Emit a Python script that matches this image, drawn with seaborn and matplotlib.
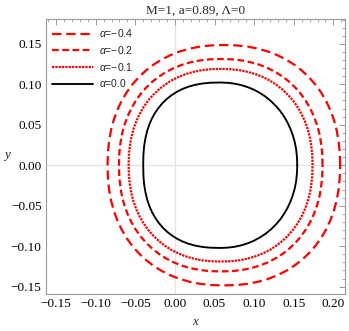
import numpy as np
import pandas as pd
import matplotlib
matplotlib.use("Agg")
import matplotlib.pyplot as plt
from matplotlib.ticker import MultipleLocator
import seaborn as sns

# Shadow curves: upper half, going right -> top -> left.
# The lower half of every curve is the mirror image in y = 0.
x_m04 = [0.2084, 0.2079, 0.2064, 0.2039, 0.2004, 0.1960, 0.1906, 0.1843, 0.1771, 0.1691,
         0.1603, 0.1507, 0.1403, 0.1293, 0.1176, 0.1052, 0.0920, 0.0780, 0.0617,
         0.0454, 0.0314, 0.0182, 0.0058, -0.0059, -0.0169, -0.0273, -0.0369, -0.0457,
         -0.0537, -0.0609, -0.0672, -0.0726, -0.0770, -0.0805, -0.0830, -0.0845, -0.0850]
y_m04 = [0.0000, 0.0165, 0.0307, 0.0440, 0.0565, 0.0684, 0.0796, 0.0901, 0.0998, 0.1087,
         0.1168, 0.1241, 0.1305, 0.1359, 0.1404, 0.1439, 0.1465, 0.1480, 0.1485,
         0.1480, 0.1465, 0.1439, 0.1404, 0.1359, 0.1305, 0.1241, 0.1168, 0.1087,
         0.0998, 0.0901, 0.0796, 0.0684, 0.0565, 0.0440, 0.0307, 0.0165, 0.0000]

x_m02 = [0.1862, 0.1858, 0.1844, 0.1823, 0.1792, 0.1753, 0.1706, 0.1651, 0.1588, 0.1518,
         0.1441, 0.1357, 0.1266, 0.1169, 0.1067, 0.0958, 0.0844, 0.0721, 0.0578,
         0.0435, 0.0312, 0.0198, 0.0089, -0.0013, -0.0110, -0.0201, -0.0285, -0.0362,
         -0.0432, -0.0495, -0.0550, -0.0597, -0.0636, -0.0667, -0.0688, -0.0702, -0.0706]
y_m02 = [0.0000, 0.0146, 0.0271, 0.0389, 0.0500, 0.0604, 0.0703, 0.0795, 0.0881, 0.0960,
         0.1032, 0.1096, 0.1153, 0.1201, 0.1241, 0.1272, 0.1294, 0.1308, 0.1312,
         0.1308, 0.1294, 0.1272, 0.1241, 0.1201, 0.1153, 0.1096, 0.1032, 0.0960,
         0.0881, 0.0795, 0.0703, 0.0604, 0.0500, 0.0389, 0.0271, 0.0146, 0.0000]

x_m01 = [0.1736, 0.1732, 0.1720, 0.1700, 0.1673, 0.1638, 0.1595, 0.1545, 0.1489, 0.1425,
         0.1355, 0.1279, 0.1198, 0.1110, 0.1018, 0.0920, 0.0816, 0.0705, 0.0576,
         0.0447, 0.0336, 0.0232, 0.0134, 0.0042, -0.0046, -0.0127, -0.0203, -0.0273,
         -0.0337, -0.0393, -0.0443, -0.0486, -0.0521, -0.0548, -0.0568, -0.0580, -0.0584]
y_m01 = [0.0000, 0.0132, 0.0246, 0.0353, 0.0453, 0.0548, 0.0638, 0.0722, 0.0800, 0.0871,
         0.0936, 0.0994, 0.1046, 0.1089, 0.1125, 0.1153, 0.1174, 0.1186, 0.1190,
         0.1186, 0.1174, 0.1153, 0.1125, 0.1089, 0.1046, 0.0994, 0.0936, 0.0871,
         0.0800, 0.0722, 0.0638, 0.0548, 0.0453, 0.0353, 0.0246, 0.0132, 0.0000]

# alpha = 0: round on the right, flatter on the left
x_00 = [0.1544, 0.1540, 0.1530, 0.1513, 0.1488, 0.1457, 0.1420, 0.1376, 0.1327, 0.1271,
        0.1211, 0.1145, 0.1075, 0.1001, 0.0923, 0.0841, 0.0756, 0.0668, 0.0572,
        0.0444, 0.0345, 0.0255, 0.0173, 0.0096, 0.0025, -0.0041, -0.0102, -0.0157,
        -0.0207, -0.0252, -0.0291, -0.0324, -0.0351, -0.0372, -0.0388, -0.0397, -0.0400]
y_00 = [0.0000, 0.0101, 0.0194, 0.0283, 0.0369, 0.0451, 0.0529, 0.0603, 0.0672, 0.0735,
        0.0793, 0.0846, 0.0891, 0.0931, 0.0963, 0.0989, 0.1007, 0.1018, 0.1022,
        0.1019, 0.1009, 0.0993, 0.0971, 0.0942, 0.0907, 0.0866, 0.0819, 0.0767,
        0.0708, 0.0644, 0.0575, 0.0500, 0.0420, 0.0333, 0.0239, 0.0135, 0.0000]

labels = [r"$\alpha$=−0.4", r"$\alpha$=−0.2", r"$\alpha$=−0.1", r"$\alpha$=0.0"]
curves = [(x_m04, y_m04), (x_m02, y_m02), (x_m01, y_m01), (x_00, y_00)]
colors = ["#ff0000", "#ff0000", "#ff0000", "black"]
widths = [1.6, 1.6, 1.6, 1.35]
styles = [(0, (4.2, 2.2)), (0, (3.0, 1.6)), (0, (1.0, 0.5)), "-"]

sns.set_style("white")
plt.rcParams["mathtext.fontset"] = "custom"
plt.rcParams["mathtext.it"] = "Liberation Sans:italic"
plt.rcParams["font.family"] = ["Liberation Serif", "DejaVu Serif"]

fig = plt.figure(figsize=(3.49, 3.31), dpi=100)
ax = fig.add_axes([0.131, 0.112, 0.8575, 0.8305])

ax.axhline(0, color="#e4e4e4", lw=0.9, zorder=0)
ax.axvline(0, color="#e4e4e4", lw=0.9, zorder=0)

for (xs, ys), lab, c, lw, ls in zip(curves, labels, colors, widths, styles):
    # upper half, then the mirrored lower half
    xx = np.array(xs + xs[::-1][1:])
    yy = np.array(ys + [-v for v in ys[::-1][1:]])
    df = pd.DataFrame({"x": xx, "y": yy})
    sns.lineplot(data=df, x="x", y="y", sort=False, estimator=None, ax=ax,
                 color=c, lw=lw, linestyle=ls, label=lab)

ax.set_xlim(-0.163, 0.2146)
ax.set_ylim(-0.159, 0.1806)
ax.xaxis.set_major_locator(MultipleLocator(0.05))
ax.yaxis.set_major_locator(MultipleLocator(0.05))
ax.xaxis.set_minor_locator(MultipleLocator(0.01))
ax.yaxis.set_minor_locator(MultipleLocator(0.01))
fmt = plt.FuncFormatter(lambda v, p: f"{v:.2f}".replace("-", "\u2212"))
ax.xaxis.set_major_formatter(fmt)
ax.yaxis.set_major_formatter(fmt)
ax.tick_params(which="both", direction="in", top=True, right=True, color="#9a9a9a",
               labelsize=9.5, labelcolor="black", pad=3)
ax.tick_params(which="major", length=4, width=0.7)
ax.tick_params(which="minor", length=2.2, width=0.6)
for s in ax.spines.values():
    s.set_color("#9a9a9a")
    s.set_linewidth(0.8)

ax.set_title("M=1, a=0.89, Λ=0", fontsize=9.5, pad=4)
ax.set_xlabel("x", fontstyle="italic", fontsize=9.5, labelpad=4)
ax.set_ylabel("y", fontstyle="italic", fontsize=9.5, rotation=0, labelpad=6)
ax.yaxis.set_label_coords(-0.13, 0.485)

ax.legend(loc="upper left", bbox_to_anchor=(-0.008, 1.0), frameon=False, borderpad=0.3,
          handlelength=4.0, handletextpad=0.5, labelspacing=0.45,
          prop={"family": "Liberation Sans", "size": 7.5})

fig.savefig("out.png", dpi=100)
